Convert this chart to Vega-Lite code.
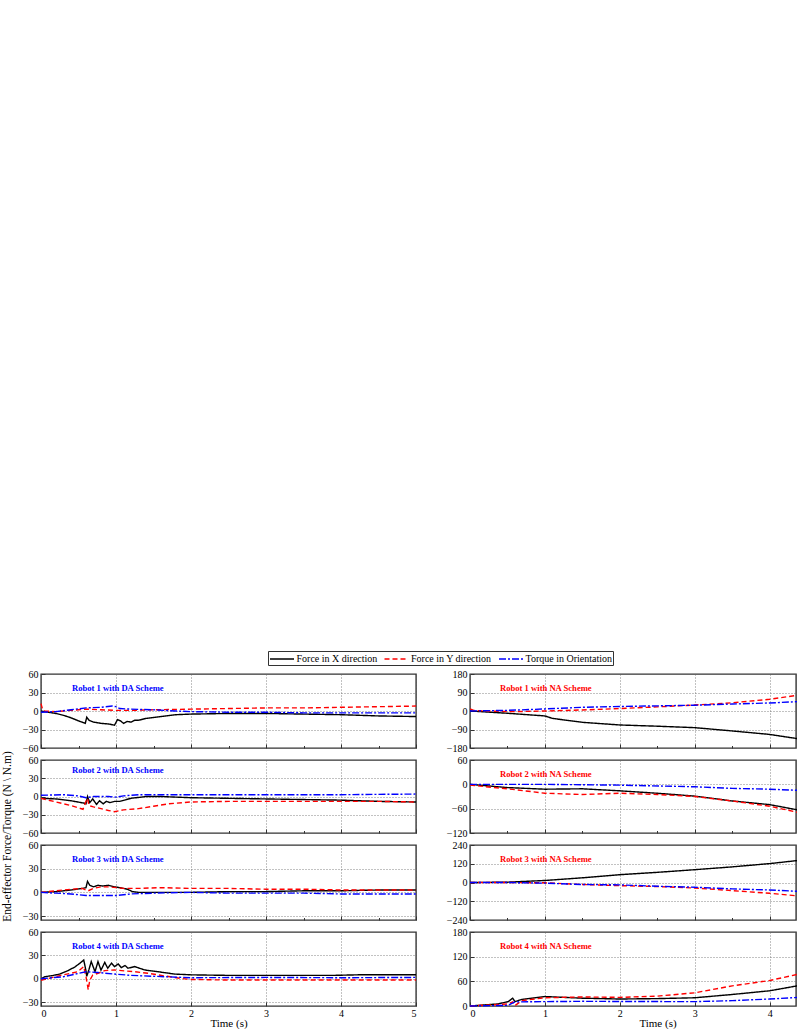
{
"$schema":"https://vega.github.io/schema/vega-lite/v6.json",
"padding":{"left":0,"top":650,"right":0,"bottom":0},
"data":{"values":[
{"p":"D1","s":"X","t":0,"v":0},{"p":"D1","s":"X","t":0.1,"v":-2},{"p":"D1","s":"X","t":0.2,"v":-4},{"p":"D1","s":"X","t":0.3,"v":-7},{"p":"D1","s":"X","t":0.4,"v":-11},{"p":"D1","s":"X","t":0.5,"v":-16},{"p":"D1","s":"X","t":0.57,"v":-19},{"p":"D1","s":"X","t":0.59,"v":-20},{"p":"D1","s":"X","t":0.61,"v":-10},{"p":"D1","s":"X","t":0.64,"v":-15},{"p":"D1","s":"X","t":0.7,"v":-18},{"p":"D1","s":"X","t":0.8,"v":-20},{"p":"D1","s":"X","t":0.9,"v":-21},{"p":"D1","s":"X","t":0.98,"v":-23},{"p":"D1","s":"X","t":1.02,"v":-14},{"p":"D1","s":"X","t":1.06,"v":-16},{"p":"D1","s":"X","t":1.1,"v":-20},{"p":"D1","s":"X","t":1.15,"v":-17},{"p":"D1","s":"X","t":1.2,"v":-18},{"p":"D1","s":"X","t":1.25,"v":-15},{"p":"D1","s":"X","t":1.3,"v":-15},{"p":"D1","s":"X","t":1.4,"v":-12},{"p":"D1","s":"X","t":1.6,"v":-9},{"p":"D1","s":"X","t":1.8,"v":-6},{"p":"D1","s":"X","t":2,"v":-5},{"p":"D1","s":"X","t":2.5,"v":-4},{"p":"D1","s":"X","t":3,"v":-4},{"p":"D1","s":"X","t":3.5,"v":-5},{"p":"D1","s":"X","t":4,"v":-6},{"p":"D1","s":"X","t":4.5,"v":-8},{"p":"D1","s":"X","t":5,"v":-9},
{"p":"D1","s":"Y","t":0,"v":12},{"p":"D1","s":"Y","t":0.02,"v":3},{"p":"D1","s":"Y","t":0.05,"v":0},{"p":"D1","s":"Y","t":0.2,"v":-1},{"p":"D1","s":"Y","t":0.4,"v":1},{"p":"D1","s":"Y","t":0.6,"v":3},{"p":"D1","s":"Y","t":0.8,"v":2},{"p":"D1","s":"Y","t":1,"v":1},{"p":"D1","s":"Y","t":1.2,"v":1},{"p":"D1","s":"Y","t":1.5,"v":2},{"p":"D1","s":"Y","t":2,"v":3},{"p":"D1","s":"Y","t":2.5,"v":4},{"p":"D1","s":"Y","t":3,"v":5},{"p":"D1","s":"Y","t":3.5,"v":5},{"p":"D1","s":"Y","t":4,"v":6},{"p":"D1","s":"Y","t":4.5,"v":7},{"p":"D1","s":"Y","t":5,"v":8},
{"p":"D1","s":"T","t":0,"v":-2},{"p":"D1","s":"T","t":0.2,"v":-1},{"p":"D1","s":"T","t":0.4,"v":2},{"p":"D1","s":"T","t":0.6,"v":5},{"p":"D1","s":"T","t":0.8,"v":6},{"p":"D1","s":"T","t":0.95,"v":8},{"p":"D1","s":"T","t":1,"v":7},{"p":"D1","s":"T","t":1.05,"v":4},{"p":"D1","s":"T","t":1.2,"v":3},{"p":"D1","s":"T","t":1.5,"v":2},{"p":"D1","s":"T","t":1.8,"v":0},{"p":"D1","s":"T","t":2,"v":-1},{"p":"D1","s":"T","t":2.5,"v":-2},{"p":"D1","s":"T","t":3,"v":-2},{"p":"D1","s":"T","t":3.5,"v":-3},{"p":"D1","s":"T","t":4,"v":-3},{"p":"D1","s":"T","t":4.5,"v":-3},{"p":"D1","s":"T","t":5,"v":-3},
{"p":"D2","s":"X","t":0,"v":-3},{"p":"D2","s":"X","t":0.2,"v":-4},{"p":"D2","s":"X","t":0.4,"v":-7},{"p":"D2","s":"X","t":0.58,"v":-11},{"p":"D2","s":"X","t":0.6,"v":-12},{"p":"D2","s":"X","t":0.62,"v":0},{"p":"D2","s":"X","t":0.65,"v":-10},{"p":"D2","s":"X","t":0.69,"v":-4},{"p":"D2","s":"X","t":0.74,"v":-13},{"p":"D2","s":"X","t":0.78,"v":-7},{"p":"D2","s":"X","t":0.83,"v":-12},{"p":"D2","s":"X","t":0.87,"v":-8},{"p":"D2","s":"X","t":0.92,"v":-10},{"p":"D2","s":"X","t":0.98,"v":-8},{"p":"D2","s":"X","t":1.05,"v":-8},{"p":"D2","s":"X","t":1.2,"v":-3},{"p":"D2","s":"X","t":1.4,"v":0},{"p":"D2","s":"X","t":1.6,"v":0},{"p":"D2","s":"X","t":2,"v":-2},{"p":"D2","s":"X","t":2.5,"v":-3},{"p":"D2","s":"X","t":3,"v":-4},{"p":"D2","s":"X","t":3.5,"v":-5},{"p":"D2","s":"X","t":4,"v":-6},{"p":"D2","s":"X","t":4.5,"v":-8},{"p":"D2","s":"X","t":5,"v":-9},
{"p":"D2","s":"Y","t":0,"v":-3},{"p":"D2","s":"Y","t":0.2,"v":-9},{"p":"D2","s":"Y","t":0.4,"v":-15},{"p":"D2","s":"Y","t":0.56,"v":-21},{"p":"D2","s":"Y","t":0.6,"v":-8},{"p":"D2","s":"Y","t":0.62,"v":-3},{"p":"D2","s":"Y","t":0.64,"v":-15},{"p":"D2","s":"Y","t":0.7,"v":-17},{"p":"D2","s":"Y","t":0.8,"v":-20},{"p":"D2","s":"Y","t":0.9,"v":-23},{"p":"D2","s":"Y","t":0.98,"v":-25},{"p":"D2","s":"Y","t":1.1,"v":-22},{"p":"D2","s":"Y","t":1.3,"v":-20},{"p":"D2","s":"Y","t":1.5,"v":-16},{"p":"D2","s":"Y","t":1.7,"v":-12},{"p":"D2","s":"Y","t":2,"v":-9},{"p":"D2","s":"Y","t":2.5,"v":-8},{"p":"D2","s":"Y","t":3,"v":-8},{"p":"D2","s":"Y","t":3.5,"v":-8},{"p":"D2","s":"Y","t":4,"v":-8},{"p":"D2","s":"Y","t":4.5,"v":-8},{"p":"D2","s":"Y","t":5,"v":-9},
{"p":"D2","s":"T","t":0,"v":2},{"p":"D2","s":"T","t":0.3,"v":3},{"p":"D2","s":"T","t":0.5,"v":1},{"p":"D2","s":"T","t":0.6,"v":-2},{"p":"D2","s":"T","t":0.7,"v":0},{"p":"D2","s":"T","t":0.9,"v":0},{"p":"D2","s":"T","t":1,"v":-1},{"p":"D2","s":"T","t":1.1,"v":1},{"p":"D2","s":"T","t":1.3,"v":3},{"p":"D2","s":"T","t":2,"v":3},{"p":"D2","s":"T","t":3,"v":3},{"p":"D2","s":"T","t":4,"v":3},{"p":"D2","s":"T","t":5,"v":4},
{"p":"D3","s":"X","t":0,"v":0},{"p":"D3","s":"X","t":0.2,"v":1},{"p":"D3","s":"X","t":0.4,"v":3},{"p":"D3","s":"X","t":0.55,"v":5},{"p":"D3","s":"X","t":0.6,"v":6},{"p":"D3","s":"X","t":0.62,"v":14},{"p":"D3","s":"X","t":0.65,"v":9},{"p":"D3","s":"X","t":0.7,"v":7},{"p":"D3","s":"X","t":0.76,"v":9},{"p":"D3","s":"X","t":0.82,"v":8},{"p":"D3","s":"X","t":0.9,"v":9},{"p":"D3","s":"X","t":0.98,"v":7},{"p":"D3","s":"X","t":1.05,"v":6},{"p":"D3","s":"X","t":1.15,"v":4},{"p":"D3","s":"X","t":1.22,"v":1},{"p":"D3","s":"X","t":1.3,"v":0},{"p":"D3","s":"X","t":1.5,"v":0},{"p":"D3","s":"X","t":2,"v":0},{"p":"D3","s":"X","t":2.5,"v":1},{"p":"D3","s":"X","t":3,"v":1},{"p":"D3","s":"X","t":3.5,"v":2},{"p":"D3","s":"X","t":4,"v":2},{"p":"D3","s":"X","t":4.5,"v":3},{"p":"D3","s":"X","t":5,"v":3},
{"p":"D3","s":"Y","t":0,"v":0},{"p":"D3","s":"Y","t":0.2,"v":2},{"p":"D3","s":"Y","t":0.4,"v":4},{"p":"D3","s":"Y","t":0.55,"v":5},{"p":"D3","s":"Y","t":0.6,"v":3},{"p":"D3","s":"Y","t":0.63,"v":2},{"p":"D3","s":"Y","t":0.7,"v":5},{"p":"D3","s":"Y","t":0.8,"v":7},{"p":"D3","s":"Y","t":0.9,"v":7},{"p":"D3","s":"Y","t":1,"v":6},{"p":"D3","s":"Y","t":1.1,"v":5},{"p":"D3","s":"Y","t":1.3,"v":5},{"p":"D3","s":"Y","t":1.6,"v":6},{"p":"D3","s":"Y","t":2,"v":5},{"p":"D3","s":"Y","t":2.5,"v":5},{"p":"D3","s":"Y","t":3,"v":4},{"p":"D3","s":"Y","t":3.5,"v":4},{"p":"D3","s":"Y","t":4,"v":3},{"p":"D3","s":"Y","t":4.5,"v":3},{"p":"D3","s":"Y","t":5,"v":3},
{"p":"D3","s":"T","t":0,"v":0},{"p":"D3","s":"T","t":0.2,"v":-1},{"p":"D3","s":"T","t":0.4,"v":-2},{"p":"D3","s":"T","t":0.6,"v":-4},{"p":"D3","s":"T","t":0.8,"v":-4},{"p":"D3","s":"T","t":1,"v":-4},{"p":"D3","s":"T","t":1.2,"v":-2},{"p":"D3","s":"T","t":1.5,"v":-1},{"p":"D3","s":"T","t":2,"v":0},{"p":"D3","s":"T","t":2.5,"v":-1},{"p":"D3","s":"T","t":3,"v":-1},{"p":"D3","s":"T","t":3.5,"v":-1},{"p":"D3","s":"T","t":4,"v":-2},{"p":"D3","s":"T","t":4.5,"v":-2},{"p":"D3","s":"T","t":5,"v":-2},
{"p":"D4","s":"X","t":0,"v":0},{"p":"D4","s":"X","t":0.05,"v":2.6},{"p":"D4","s":"X","t":0.15,"v":4},{"p":"D4","s":"X","t":0.25,"v":6},{"p":"D4","s":"X","t":0.35,"v":10},{"p":"D4","s":"X","t":0.45,"v":15},{"p":"D4","s":"X","t":0.52,"v":20},{"p":"D4","s":"X","t":0.57,"v":24},{"p":"D4","s":"X","t":0.6,"v":10},{"p":"D4","s":"X","t":0.61,"v":3},{"p":"D4","s":"X","t":0.64,"v":12},{"p":"D4","s":"X","t":0.67,"v":22},{"p":"D4","s":"X","t":0.72,"v":9},{"p":"D4","s":"X","t":0.76,"v":22},{"p":"D4","s":"X","t":0.8,"v":11},{"p":"D4","s":"X","t":0.85,"v":21},{"p":"D4","s":"X","t":0.89,"v":13.5},{"p":"D4","s":"X","t":0.94,"v":20},{"p":"D4","s":"X","t":0.98,"v":15.6},{"p":"D4","s":"X","t":1.03,"v":19},{"p":"D4","s":"X","t":1.07,"v":14.3},{"p":"D4","s":"X","t":1.12,"v":17},{"p":"D4","s":"X","t":1.16,"v":13.5},{"p":"D4","s":"X","t":1.25,"v":15.6},{"p":"D4","s":"X","t":1.38,"v":11.3},{"p":"D4","s":"X","t":1.56,"v":9},{"p":"D4","s":"X","t":1.78,"v":6},{"p":"D4","s":"X","t":2,"v":5},{"p":"D4","s":"X","t":2.5,"v":4.3},{"p":"D4","s":"X","t":3,"v":4.3},{"p":"D4","s":"X","t":3.5,"v":4.3},{"p":"D4","s":"X","t":3.9,"v":4.3},{"p":"D4","s":"X","t":4.3,"v":5.2},{"p":"D4","s":"X","t":5,"v":5.2},
{"p":"D4","s":"Y","t":0,"v":-2},{"p":"D4","s":"Y","t":0.23,"v":3.5},{"p":"D4","s":"Y","t":0.49,"v":9},{"p":"D4","s":"Y","t":0.57,"v":15.6},{"p":"D4","s":"Y","t":0.6,"v":2.6},{"p":"D4","s":"Y","t":0.63,"v":-14},{"p":"D4","s":"Y","t":0.65,"v":-2},{"p":"D4","s":"Y","t":0.69,"v":4.8},{"p":"D4","s":"Y","t":0.76,"v":7},{"p":"D4","s":"Y","t":0.85,"v":10.4},{"p":"D4","s":"Y","t":0.98,"v":11.3},{"p":"D4","s":"Y","t":1.12,"v":10},{"p":"D4","s":"Y","t":1.25,"v":9},{"p":"D4","s":"Y","t":1.43,"v":7},{"p":"D4","s":"Y","t":1.65,"v":3.5},{"p":"D4","s":"Y","t":1.87,"v":0.4},{"p":"D4","s":"Y","t":2,"v":-0.9},{"p":"D4","s":"Y","t":2.5,"v":-1.7},{"p":"D4","s":"Y","t":3,"v":-1.7},{"p":"D4","s":"Y","t":4,"v":-1.7},{"p":"D4","s":"Y","t":5,"v":-1.7},
{"p":"D4","s":"T","t":0,"v":0},{"p":"D4","s":"T","t":0.3,"v":2.6},{"p":"D4","s":"T","t":0.6,"v":9},{"p":"D4","s":"T","t":0.76,"v":8},{"p":"D4","s":"T","t":0.98,"v":6},{"p":"D4","s":"T","t":1.2,"v":4.3},{"p":"D4","s":"T","t":1.65,"v":2.6},{"p":"D4","s":"T","t":2,"v":1.3},{"p":"D4","s":"T","t":3,"v":1.7},{"p":"D4","s":"T","t":4,"v":1.3},{"p":"D4","s":"T","t":5,"v":1.7},
{"p":"N1","s":"X","t":0,"v":0},{"p":"N1","s":"X","t":0.5,"v":-11},{"p":"N1","s":"X","t":1,"v":-24},{"p":"N1","s":"X","t":1.1,"v":-36},{"p":"N1","s":"X","t":1.5,"v":-55},{"p":"N1","s":"X","t":2,"v":-68},{"p":"N1","s":"X","t":2.5,"v":-74},{"p":"N1","s":"X","t":3,"v":-81},{"p":"N1","s":"X","t":3.5,"v":-97},{"p":"N1","s":"X","t":4,"v":-114},{"p":"N1","s":"X","t":4.4,"v":-136},
{"p":"N1","s":"Y","t":0,"v":10},{"p":"N1","s":"Y","t":0.05,"v":3},{"p":"N1","s":"Y","t":0.2,"v":0},{"p":"N1","s":"Y","t":0.6,"v":-3},{"p":"N1","s":"Y","t":1,"v":0},{"p":"N1","s":"Y","t":1.5,"v":5},{"p":"N1","s":"Y","t":2,"v":12},{"p":"N1","s":"Y","t":2.5,"v":20},{"p":"N1","s":"Y","t":3,"v":29},{"p":"N1","s":"Y","t":3.5,"v":40},{"p":"N1","s":"Y","t":4,"v":57},{"p":"N1","s":"Y","t":4.4,"v":78},
{"p":"N1","s":"T","t":0,"v":0},{"p":"N1","s":"T","t":0.5,"v":3},{"p":"N1","s":"T","t":1,"v":10},{"p":"N1","s":"T","t":1.5,"v":18},{"p":"N1","s":"T","t":2,"v":22},{"p":"N1","s":"T","t":2.5,"v":25},{"p":"N1","s":"T","t":3,"v":28},{"p":"N1","s":"T","t":3.5,"v":34},{"p":"N1","s":"T","t":4,"v":39},{"p":"N1","s":"T","t":4.4,"v":46},
{"p":"N2","s":"X","t":0,"v":0},{"p":"N2","s":"X","t":0.5,"v":-8},{"p":"N2","s":"X","t":1,"v":-12},{"p":"N2","s":"X","t":1.5,"v":-11},{"p":"N2","s":"X","t":2,"v":-16},{"p":"N2","s":"X","t":2.5,"v":-22},{"p":"N2","s":"X","t":3,"v":-29},{"p":"N2","s":"X","t":3.5,"v":-41},{"p":"N2","s":"X","t":4,"v":-50},{"p":"N2","s":"X","t":4.4,"v":-64},
{"p":"N2","s":"Y","t":0,"v":-2},{"p":"N2","s":"Y","t":0.5,"v":-11},{"p":"N2","s":"Y","t":1,"v":-22},{"p":"N2","s":"Y","t":1.5,"v":-25},{"p":"N2","s":"Y","t":2,"v":-22},{"p":"N2","s":"Y","t":2.5,"v":-25},{"p":"N2","s":"Y","t":3,"v":-30},{"p":"N2","s":"Y","t":3.5,"v":-41},{"p":"N2","s":"Y","t":4,"v":-54},{"p":"N2","s":"Y","t":4.4,"v":-70},
{"p":"N2","s":"T","t":0,"v":0},{"p":"N2","s":"T","t":1,"v":0},{"p":"N2","s":"T","t":2,"v":-2},{"p":"N2","s":"T","t":3,"v":-6},{"p":"N2","s":"T","t":3.5,"v":-10},{"p":"N2","s":"T","t":4,"v":-12},{"p":"N2","s":"T","t":4.4,"v":-15},
{"p":"N3","s":"X","t":0,"v":0},{"p":"N3","s":"X","t":0.5,"v":2},{"p":"N3","s":"X","t":1,"v":13},{"p":"N3","s":"X","t":1.5,"v":30},{"p":"N3","s":"X","t":2,"v":50},{"p":"N3","s":"X","t":2.5,"v":65},{"p":"N3","s":"X","t":3,"v":82},{"p":"N3","s":"X","t":3.5,"v":100},{"p":"N3","s":"X","t":4,"v":121},{"p":"N3","s":"X","t":4.4,"v":142},
{"p":"N3","s":"Y","t":0,"v":0},{"p":"N3","s":"Y","t":0.5,"v":0},{"p":"N3","s":"Y","t":1,"v":-2},{"p":"N3","s":"Y","t":1.5,"v":-13},{"p":"N3","s":"Y","t":2,"v":-20},{"p":"N3","s":"Y","t":2.5,"v":-26},{"p":"N3","s":"Y","t":3,"v":-35},{"p":"N3","s":"Y","t":3.5,"v":-52},{"p":"N3","s":"Y","t":4,"v":-69},{"p":"N3","s":"Y","t":4.4,"v":-87},
{"p":"N3","s":"T","t":0,"v":0},{"p":"N3","s":"T","t":0.5,"v":0},{"p":"N3","s":"T","t":1,"v":-4},{"p":"N3","s":"T","t":1.5,"v":-13},{"p":"N3","s":"T","t":2,"v":-15},{"p":"N3","s":"T","t":2.5,"v":-24},{"p":"N3","s":"T","t":3,"v":-30},{"p":"N3","s":"T","t":3.5,"v":-41},{"p":"N3","s":"T","t":4,"v":-48},{"p":"N3","s":"T","t":4.4,"v":-57},
{"p":"N4","s":"X","t":0,"v":0},{"p":"N4","s":"X","t":0.37,"v":5},{"p":"N4","s":"X","t":0.51,"v":10.6},{"p":"N4","s":"X","t":0.57,"v":19},{"p":"N4","s":"X","t":0.6,"v":10.6},{"p":"N4","s":"X","t":0.69,"v":16},{"p":"N4","s":"X","t":1,"v":23},{"p":"N4","s":"X","t":1.5,"v":19},{"p":"N4","s":"X","t":2,"v":17},{"p":"N4","s":"X","t":2.5,"v":18},{"p":"N4","s":"X","t":3,"v":20},{"p":"N4","s":"X","t":3.5,"v":28},{"p":"N4","s":"X","t":4,"v":37},{"p":"N4","s":"X","t":4.4,"v":50},
{"p":"N4","s":"Y","t":0,"v":0},{"p":"N4","s":"Y","t":0.51,"v":5},{"p":"N4","s":"Y","t":0.57,"v":10},{"p":"N4","s":"Y","t":0.6,"v":1},{"p":"N4","s":"Y","t":0.69,"v":13},{"p":"N4","s":"Y","t":1,"v":20},{"p":"N4","s":"Y","t":1.5,"v":22},{"p":"N4","s":"Y","t":2,"v":21},{"p":"N4","s":"Y","t":2.5,"v":24},{"p":"N4","s":"Y","t":3,"v":32},{"p":"N4","s":"Y","t":3.5,"v":49},{"p":"N4","s":"Y","t":4,"v":62},{"p":"N4","s":"Y","t":4.4,"v":78},
{"p":"N4","s":"T","t":0,"v":0},{"p":"N4","s":"T","t":0.51,"v":1.6},{"p":"N4","s":"T","t":0.6,"v":10},{"p":"N4","s":"T","t":1,"v":10.6},{"p":"N4","s":"T","t":1.5,"v":11.4},{"p":"N4","s":"T","t":2,"v":11},{"p":"N4","s":"T","t":3,"v":10.6},{"p":"N4","s":"T","t":3.5,"v":13},{"p":"N4","s":"T","t":4,"v":17},{"p":"N4","s":"T","t":4.4,"v":21}
]},
"config":{
"font":"Liberation Serif",
"view":{"stroke":"#333333","strokeWidth":1.4},
"axis":{"domain":false,"grid":true,"gridDash":[1,2],"gridColor":"#666666","gridWidth":0.8,"tickColor":"#333333","tickSize":-4,"labelFont":"Liberation Serif","labelFontSize":10,"labelColor":"#000000","labelPadding":7,"titleFont":"Liberation Serif","titleFontSize":11,"titleFontWeight":"normal","titleColor":"#000000"},
"axisX":{"labelPadding":6},
"legend":{"orient":"none","legendX":227,"legendY":-23,"direction":"horizontal","strokeColor":"#333333","padding":1,"symbolType":"M-2,0H2","symbolSize":144,"symbolOffset":6,"symbolStrokeWidth":1.5,"labelFont":"Liberation Serif","labelFontSize":10,"labelColor":"#000000","columnPadding":3.5,"labelOffset":7.5},
"title":{"font":"Liberation Serif","fontSize":8.6,"fontWeight":"bold","anchor":"start","frame":"group","offset":0,"baseline":"middle"},
"line":{"strokeWidth":1.4,"clip":true}
},
"spacing":25,
"resolve":{"scale":{"x":"independent","y":"independent"},"axis":{"x":"independent","y":"independent"}},
"hconcat":[
{"vconcat":[
{"width":375,"height":74,"title":{"text":"Robot 1 with DA Scheme","color":"#0000ff","dx":31,"dy":28},"transform":[{"filter":"datum.p==='D1'"}],"mark":"line",
"encoding":{"x":{"field":"t","type":"quantitative","scale":{"domain":[0,5],"nice":false},"axis":{"values":[0,0.5,1,1.5,2,2.5,3,3.5,4,4.5,5],"labels":false,"title":null,"gridOpacity":{"condition":{"test":"datum.value % 1 !== 0","value":0},"value":1},"tickSize":{"condition":{"test":"datum.value % 1 !== 0","value":-2.5},"value":-4}}},
"y":{"field":"v","type":"quantitative","scale":{"domain":[-60,60],"nice":false,"zero":false},"axis":{"values":[-60,-30,0,30,60],"title":null}},
"color":{"field":"s","type":"nominal","scale":{"domain":["X","Y","T"],"range":["#000000","#ff0000","#0000ff"]},"legend":{"title":null,"labelExpr":"datum.label=='X'?'Force in X direction':datum.label=='Y'?'Force in Y direction':'Torque in Orientation'"}},
"strokeDash":{"field":"s","type":"nominal","scale":{"domain":["X","Y","T"],"range":[[1,0],[5,3],[7,2,2,2]]},"legend":{"title":null,"labelExpr":"datum.label=='X'?'Force in X direction':datum.label=='Y'?'Force in Y direction':'Torque in Orientation'"}}}},
{"width":375,"height":73,"title":{"text":"Robot 2 with DA Scheme","color":"#0000ff","dx":31,"dy":28},"transform":[{"filter":"datum.p==='D2'"}],"mark":"line",
"encoding":{"x":{"field":"t","type":"quantitative","scale":{"domain":[0,5],"nice":false},"axis":{"values":[0,0.5,1,1.5,2,2.5,3,3.5,4,4.5,5],"labels":false,"title":null,"gridOpacity":{"condition":{"test":"datum.value % 1 !== 0","value":0},"value":1},"tickSize":{"condition":{"test":"datum.value % 1 !== 0","value":-2.5},"value":-4}}},
"y":{"field":"v","type":"quantitative","scale":{"domain":[-60,60],"nice":false,"zero":false},"axis":{"values":[-60,-30,0,30,60],"title":"End-effector Force/Torque (N \\ N.m)","titleFontSize":11.5,"titleX":-34,"titleY":76,"titleAngle":-90,"titleAlign":"center","titleBaseline":"middle"}},
"color":{"field":"s","type":"nominal","scale":{"domain":["X","Y","T"],"range":["#000000","#ff0000","#0000ff"]},"legend":{"title":null,"labelExpr":"datum.label=='X'?'Force in X direction':datum.label=='Y'?'Force in Y direction':'Torque in Orientation'"}},
"strokeDash":{"field":"s","type":"nominal","scale":{"domain":["X","Y","T"],"range":[[1,0],[5,3],[7,2,2,2]]},"legend":{"title":null,"labelExpr":"datum.label=='X'?'Force in X direction':datum.label=='Y'?'Force in Y direction':'Torque in Orientation'"}}}},
{"width":375,"height":75,"title":{"text":"Robot 3 with DA Scheme","color":"#0000ff","dx":31,"dy":28},"transform":[{"filter":"datum.p==='D3'"}],"mark":"line",
"encoding":{"x":{"field":"t","type":"quantitative","scale":{"domain":[0,5],"nice":false},"axis":{"values":[0,0.5,1,1.5,2,2.5,3,3.5,4,4.5,5],"labels":false,"title":null,"gridOpacity":{"condition":{"test":"datum.value % 1 !== 0","value":0},"value":1},"tickSize":{"condition":{"test":"datum.value % 1 !== 0","value":-2.5},"value":-4}}},
"y":{"field":"v","type":"quantitative","scale":{"domain":[-35,60],"nice":false,"zero":false},"axis":{"values":[-30,0,30,60],"title":null}},
"color":{"field":"s","type":"nominal","scale":{"domain":["X","Y","T"],"range":["#000000","#ff0000","#0000ff"]},"legend":{"title":null,"labelExpr":"datum.label=='X'?'Force in X direction':datum.label=='Y'?'Force in Y direction':'Torque in Orientation'"}},
"strokeDash":{"field":"s","type":"nominal","scale":{"domain":["X","Y","T"],"range":[[1,0],[5,3],[7,2,2,2]]},"legend":{"title":null,"labelExpr":"datum.label=='X'?'Force in X direction':datum.label=='Y'?'Force in Y direction':'Torque in Orientation'"}}}},
{"width":375,"height":74,"title":{"text":"Robot 4 with DA Scheme","color":"#0000ff","dx":31,"dy":28},"transform":[{"filter":"datum.p==='D4'"}],"mark":"line",
"encoding":{"x":{"field":"t","type":"quantitative","scale":{"domain":[0,5],"nice":false},"axis":{"values":[0,0.5,1,1.5,2,2.5,3,3.5,4,4.5,5],"format":"d","labelExpr":"datum.value % 1 ? '' : datum.label","title":"Time (s)","titlePadding":-1,"gridOpacity":{"condition":{"test":"datum.value % 1 !== 0","value":0},"value":1},"tickSize":{"condition":{"test":"datum.value % 1 !== 0","value":-2.5},"value":-4}}},
"y":{"field":"v","type":"quantitative","scale":{"domain":[-35,60],"nice":false,"zero":false},"axis":{"values":[-30,0,30,60],"title":null}},
"color":{"field":"s","type":"nominal","scale":{"domain":["X","Y","T"],"range":["#000000","#ff0000","#0000ff"]},"legend":{"title":null,"labelExpr":"datum.label=='X'?'Force in X direction':datum.label=='Y'?'Force in Y direction':'Torque in Orientation'"}},
"strokeDash":{"field":"s","type":"nominal","scale":{"domain":["X","Y","T"],"range":[[1,0],[5,3],[7,2,2,2]]},"legend":{"title":null,"labelExpr":"datum.label=='X'?'Force in X direction':datum.label=='Y'?'Force in Y direction':'Torque in Orientation'"}}}}
],"spacing":12,"bounds":"flush","resolve":{"scale":{"x":"independent","y":"independent"},"axis":{"x":"independent","y":"independent"}}},
{"vconcat":[
{"width":326,"height":74,"title":{"text":"Robot 1 with NA Scheme","color":"#ff0000","dx":30,"dy":28},"transform":[{"filter":"datum.p==='N1'"}],"mark":"line",
"encoding":{"x":{"field":"t","type":"quantitative","scale":{"domain":[0,4.352],"nice":false},"axis":{"values":[0,0.5,1,1.5,2,2.5,3,3.5,4],"labels":false,"title":null,"gridOpacity":{"condition":{"test":"datum.value % 1 !== 0","value":0},"value":1},"tickSize":{"condition":{"test":"datum.value % 1 !== 0","value":-2.5},"value":-4}}},
"y":{"field":"v","type":"quantitative","scale":{"domain":[-180,180],"nice":false,"zero":false},"axis":{"values":[-180,-90,0,90,180],"title":null}},
"color":{"field":"s","type":"nominal","scale":{"domain":["X","Y","T"],"range":["#000000","#ff0000","#0000ff"]},"legend":{"title":null,"labelExpr":"datum.label=='X'?'Force in X direction':datum.label=='Y'?'Force in Y direction':'Torque in Orientation'"}},
"strokeDash":{"field":"s","type":"nominal","scale":{"domain":["X","Y","T"],"range":[[1,0],[5,3],[7,2,2,2]]},"legend":{"title":null,"labelExpr":"datum.label=='X'?'Force in X direction':datum.label=='Y'?'Force in Y direction':'Torque in Orientation'"}}}},
{"width":326,"height":73,"title":{"text":"Robot 2 with NA Scheme","color":"#ff0000","dx":30,"dy":28},"transform":[{"filter":"datum.p==='N2'"}],"mark":"line",
"encoding":{"x":{"field":"t","type":"quantitative","scale":{"domain":[0,4.352],"nice":false},"axis":{"values":[0,0.5,1,1.5,2,2.5,3,3.5,4],"labels":false,"title":null,"gridOpacity":{"condition":{"test":"datum.value % 1 !== 0","value":0},"value":1},"tickSize":{"condition":{"test":"datum.value % 1 !== 0","value":-2.5},"value":-4}}},
"y":{"field":"v","type":"quantitative","scale":{"domain":[-120,60],"nice":false,"zero":false},"axis":{"values":[-120,-60,0,60],"title":null}},
"color":{"field":"s","type":"nominal","scale":{"domain":["X","Y","T"],"range":["#000000","#ff0000","#0000ff"]},"legend":{"title":null,"labelExpr":"datum.label=='X'?'Force in X direction':datum.label=='Y'?'Force in Y direction':'Torque in Orientation'"}},
"strokeDash":{"field":"s","type":"nominal","scale":{"domain":["X","Y","T"],"range":[[1,0],[5,3],[7,2,2,2]]},"legend":{"title":null,"labelExpr":"datum.label=='X'?'Force in X direction':datum.label=='Y'?'Force in Y direction':'Torque in Orientation'"}}}},
{"width":326,"height":75,"title":{"text":"Robot 3 with NA Scheme","color":"#ff0000","dx":30,"dy":28},"transform":[{"filter":"datum.p==='N3'"}],"mark":"line",
"encoding":{"x":{"field":"t","type":"quantitative","scale":{"domain":[0,4.352],"nice":false},"axis":{"values":[0,0.5,1,1.5,2,2.5,3,3.5,4],"labels":false,"title":null,"gridOpacity":{"condition":{"test":"datum.value % 1 !== 0","value":0},"value":1},"tickSize":{"condition":{"test":"datum.value % 1 !== 0","value":-2.5},"value":-4}}},
"y":{"field":"v","type":"quantitative","scale":{"domain":[-240,240],"nice":false,"zero":false},"axis":{"values":[-240,-120,0,120,240],"title":null}},
"color":{"field":"s","type":"nominal","scale":{"domain":["X","Y","T"],"range":["#000000","#ff0000","#0000ff"]},"legend":{"title":null,"labelExpr":"datum.label=='X'?'Force in X direction':datum.label=='Y'?'Force in Y direction':'Torque in Orientation'"}},
"strokeDash":{"field":"s","type":"nominal","scale":{"domain":["X","Y","T"],"range":[[1,0],[5,3],[7,2,2,2]]},"legend":{"title":null,"labelExpr":"datum.label=='X'?'Force in X direction':datum.label=='Y'?'Force in Y direction':'Torque in Orientation'"}}}},
{"width":326,"height":74,"title":{"text":"Robot 4 with NA Scheme","color":"#ff0000","dx":30,"dy":28},"transform":[{"filter":"datum.p==='N4'"}],"mark":"line",
"encoding":{"x":{"field":"t","type":"quantitative","scale":{"domain":[0,4.352],"nice":false},"axis":{"values":[0,0.5,1,1.5,2,2.5,3,3.5,4],"format":"d","labelExpr":"datum.value % 1 ? '' : datum.label","title":"Time (s)","titleX":187.5,"titlePadding":-1,"gridOpacity":{"condition":{"test":"datum.value % 1 !== 0","value":0},"value":1},"tickSize":{"condition":{"test":"datum.value % 1 !== 0","value":-2.5},"value":-4}}},
"y":{"field":"v","type":"quantitative","scale":{"domain":[0,180],"nice":false,"zero":false},"axis":{"values":[0,60,120,180],"title":null}},
"color":{"field":"s","type":"nominal","scale":{"domain":["X","Y","T"],"range":["#000000","#ff0000","#0000ff"]},"legend":{"title":null,"labelExpr":"datum.label=='X'?'Force in X direction':datum.label=='Y'?'Force in Y direction':'Torque in Orientation'"}},
"strokeDash":{"field":"s","type":"nominal","scale":{"domain":["X","Y","T"],"range":[[1,0],[5,3],[7,2,2,2]]},"legend":{"title":null,"labelExpr":"datum.label=='X'?'Force in X direction':datum.label=='Y'?'Force in Y direction':'Torque in Orientation'"}}}}
],"spacing":12,"bounds":"flush","resolve":{"scale":{"x":"independent","y":"independent"},"axis":{"x":"independent","y":"independent"}}}
]
}
